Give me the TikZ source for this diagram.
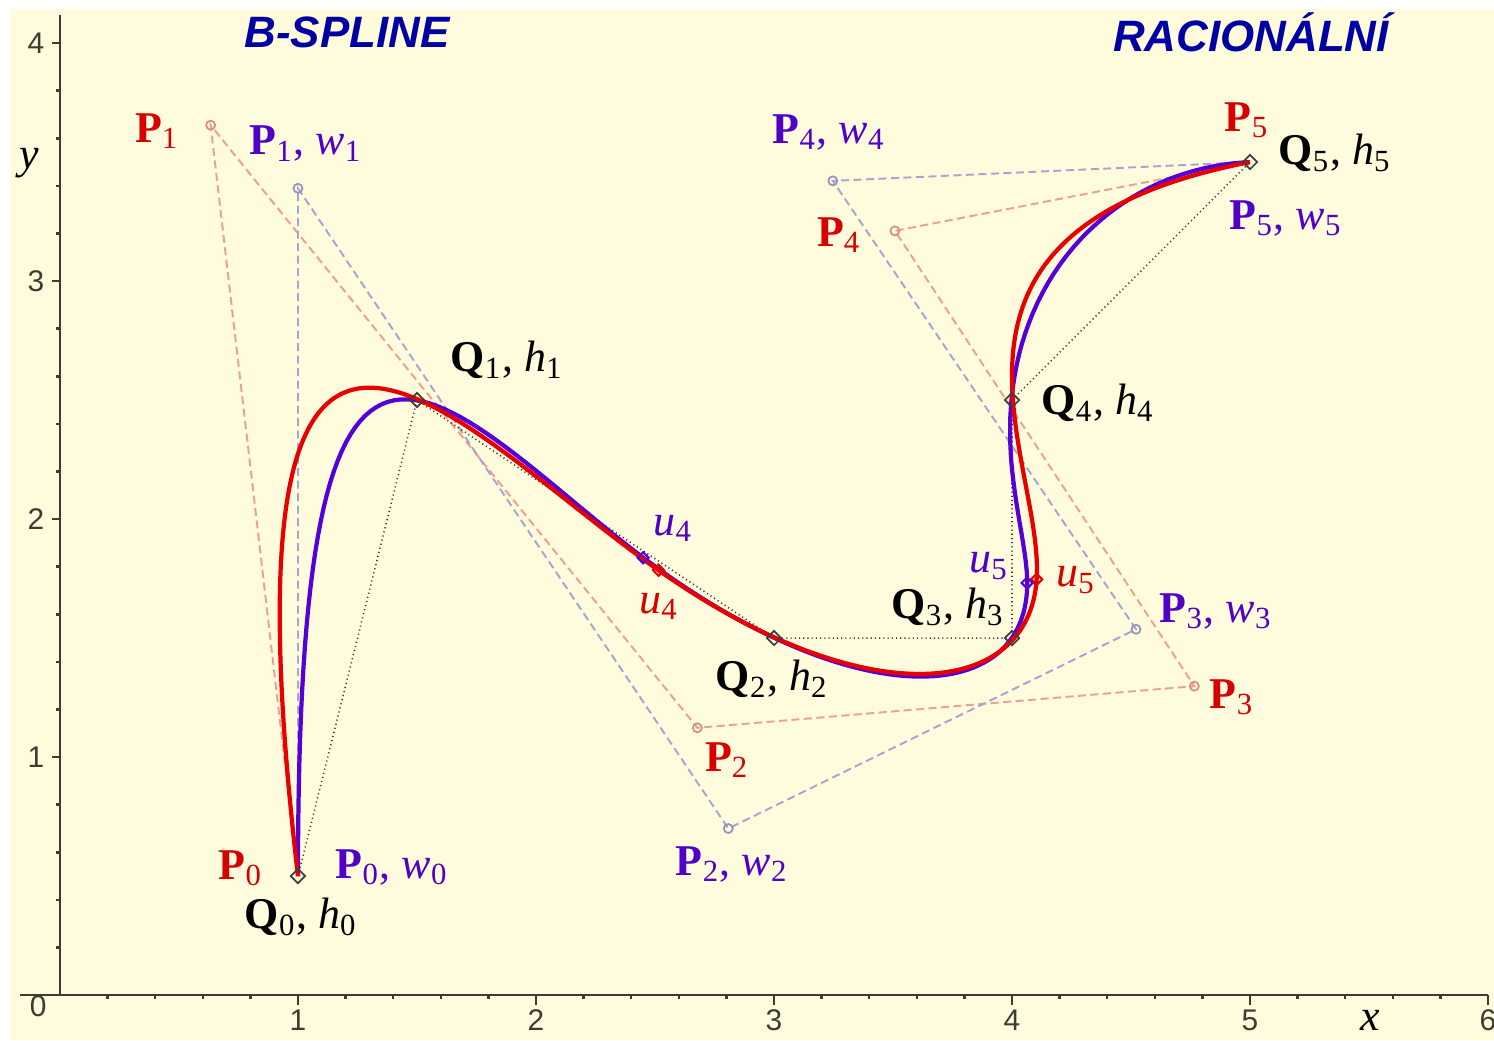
\documentclass[tikz,border=0pt]{standalone}
\usepackage{fontspec}
\setmainfont{Liberation Serif}
\setsansfont{Liberation Sans}
\usetikzlibrary{shapes.geometric, positioning}

\definecolor{paper}{RGB}{255,251,221}
\definecolor{splred}{RGB}{232,0,0}
\definecolor{splblue}{RGB}{85,0,215}
\definecolor{labred}{RGB}{215,0,0}
\definecolor{labblue}{RGB}{80,0,200}
\definecolor{titleblue}{RGB}{0,0,165}
\definecolor{polyred}{RGB}{238,160,140}
\definecolor{polyblue}{RGB}{165,165,210}
\definecolor{axisgray}{RGB}{60,60,50}

\newcommand{\Plab}[1]{\textbf{P}\textsubscript{#1}}
\newcommand{\PWlab}[1]{\textbf{P}\textsubscript{#1}, \textit{w}\textsubscript{#1}}
\newcommand{\QHlab}[1]{\textbf{Q}\textsubscript{#1}, \textit{h}\textsubscript{#1}}
\newcommand{\Ulab}[1]{\textit{u}\textsubscript{#1}}

\begin{document}
\begin{tikzpicture}[
        x=2.38cm, y=2.38cm,
        declare function={ratb(\ta,\ka,\kb,\kc,\kd)=\ka*(1-\ta)^3+3*\kb*\ta*(1-\ta)^2+3*\kc*\ta^2*(1-\ta)+\kd*\ta^3;},
        axis/.style={draw=axisgray, line width=0.7pt},
        numlab/.style={font=\sffamily\fontsize{8.5}{10}\selectfont, text=axisgray, inner sep=0pt},
        title/.style={font=\sffamily\bfseries\itshape\fontsize{12.5}{14}\selectfont, text=titleblue},
        lab/.style={font=\fontsize{12.5}{14}\selectfont, inner sep=1pt},
        redpt/.style={circle, draw=polyred!90!black, line width=0.5pt, inner sep=0pt, minimum size=0.9mm},
        bluept/.style={circle, draw=polyblue!90!black, line width=0.5pt, inner sep=0pt, minimum size=0.9mm},
        qmark/.style={diamond, draw=black!75, line width=0.5pt, inner sep=0pt, minimum size=1.5mm},
        umark/.style={diamond, line width=0.6pt, inner sep=0pt, minimum size=1.2mm},
        redpoly/.style={draw=polyred, line width=0.55pt, dash pattern=on 0.8mm off 0.45mm},
        bluepoly/.style={draw=polyblue, line width=0.55pt, dash pattern=on 0.8mm off 0.45mm},
        qpoly/.style={draw=black!80, line width=0.45pt, dash pattern=on 0.3pt off 0.9pt},
        redcurve/.style={draw=splred, line width=1.2pt},
        bluecurve/.style={draw=splblue, line width=1.2pt}
    ]
        % Background
        \useasboundingbox (-0.252,-0.189) rectangle (6.025,4.181);
        \fill[paper] (-0.206,-0.189) rectangle (6.025,4.143);

        % Axes
        \draw[axis] (-0.17,0) -- (6,0);
        \draw[axis] (0,0) -- (0,4.12);
        \foreach \i in {1,...,30} \draw[axis] (\i/5,0) -- (\i/5,-0.018);
        \foreach \i in {1,...,20} \draw[axis] (0,\i/5) -- (-0.015,\i/5);
        \foreach \k in {1,...,6} {
            \draw[axis] (\k,0) -- (\k,-0.04);
            \node[numlab] (xl\k) at (\k,-0.105) {\k};
        }
        \foreach \k in {1,...,4} {
            \draw[axis] (0,\k) -- (-0.035,\k);
            \node[numlab, anchor=east] (yl\k) at (-0.063,\k) {\k};
        }
        \node[numlab] (xl0) at (-0.092,-0.045) {0};
        \node[lab] (xname) at (5.504,-0.105) {\textit{x}};
        \node[lab] (yname) at (-0.13,3.496) {\textit{y}};

        % Titles
        \node[title] (tbsp) at (1.206,4.046) {B-SPLINE};
        \node[title] (trac) at (5.004,4.046) {RACIONÁLNÍ};

        % Points
        \coordinate (q0) at (1,0.5);
        \coordinate (q1) at (1.5,2.5);
        \coordinate (q2) at (3,1.5);
        \coordinate (q3) at (4,1.5);
        \coordinate (q4) at (4,2.5);
        \coordinate (q5) at (5,3.5);
        \coordinate (rp1) at (0.633,3.655);
        \coordinate (rp2) at (2.678,1.123);
        \coordinate (rp3) at (4.766,1.298);
        \coordinate (rp4) at (3.508,3.211);
        \coordinate (bp1) at (1.0,3.39);
        \coordinate (bp2) at (2.808,0.70);
        \coordinate (bp3) at (4.521,1.537);
        \coordinate (bp4) at (3.247,3.421);
        % Bezier points of the red curve
        \coordinate (ra) at (1.6555,2.389);
        \coordinate (ru4) at (2.5148,1.7852);
        \coordinate (rb) at (3.374,1.1813);
        \coordinate (rc) at (4.07,1.2397);
        \coordinate (ru5) at (4.1035,1.7471);
        \coordinate (rd) at (4.137,2.2545);
        \coordinate (bu4) at (2.4502,1.8376);
        \coordinate (bu5) at (4.0633,1.7316);

        % Control polygons
        \draw[redpoly] (q0) -- (rp1) -- (rp2) -- (rp3) -- (rp4) -- (q5);
        \draw[bluepoly] (q0) -- (bp1) -- (bp2) -- (bp3) -- (bp4) -- (q5);
        \draw[qpoly] (q0) -- (q1) -- (q2) -- (q3) -- (q4) -- (q5);

        % Curves
        \draw[bluecurve, line join=round]
            plot[variable=\ta, domain=0:1, samples=60]
                ({ratb(\ta,1,0.874,1.08705,1.45762)/ratb(\ta,1,0.874,0.6685,0.59491)},
                 {ratb(\ta,0.5,2.96286,1.64348,1.09322)/ratb(\ta,1,0.874,0.6685,0.59491)})
            -- plot[variable=\ta, domain=0:1, samples=60]
                ({ratb(\ta,1.45762,1.8282,2.3563,2.19148)/ratb(\ta,0.59491,0.52133,0.57967,0.53934)},
                 {ratb(\ta,1.09322,0.54294,0.76177,0.93393)/ratb(\ta,0.59491,0.52133,0.57967,0.53934)})
            -- plot[variable=\ta, domain=0:1, samples=60]
                ({ratb(\ta,2.19148,2.02666,1.16892,4.4)/ratb(\ta,0.53934,0.499,0.36,0.88)},
                 {ratb(\ta,0.93393,1.10609,1.23156,3.08)/ratb(\ta,0.53934,0.499,0.36,0.88)});
        \draw[redcurve] (q0) .. controls (rp1) and (ra) .. (ru4)
            .. controls (rb) and (rc) .. (ru5)
            .. controls (rd) and (rp4) .. (q5);

        % Markers
        \foreach \p in {rp1,rp2,rp3,rp4} \node[redpt] (m\p) at (\p) {};
        \foreach \p in {bp1,bp2,bp3,bp4} \node[bluept] (m\p) at (\p) {};
        \foreach \p in {q0,q1,q2,q3,q4,q5} \node[qmark] (m\p) at (\p) {};
        \node[umark, draw=splred] (mru4) at (ru4) {};
        \node[umark, draw=splred] (mru5) at (ru5) {};
        \node[umark, draw=splblue] (mbu4) at (bu4) {};
        \node[umark, draw=splblue] (mbu5) at (bu5) {};

        % Labels
        \node[lab, text=labred] (lrp0) at (0.76,0.534) {\Plab{0}};
        \node[lab, text=labred] (lrp1) at (0.408,3.63) {\Plab{1}};
        \node[lab, text=labred] (lrp2) at (2.803,0.987) {\Plab{2}};
        \node[lab, text=labred] (lrp3) at (4.924,1.252) {\Plab{3}};
        \node[lab, text=labred] (lrp4) at (3.273,3.193) {\Plab{4}};
        \node[lab, text=labred] (lrp5) at (4.987,3.676) {\Plab{5}};
        \node[lab, text=labblue] (lbp0) at (1.395,0.538) {\PWlab{0}};
        \node[lab, text=labblue] (lbp1) at (1.033,3.576) {\PWlab{1}};
        \node[lab, text=labblue] (lbp2) at (2.824,0.55) {\PWlab{2}};
        \node[lab, text=labblue] (lbp3) at (4.857,1.613) {\PWlab{3}};
        \node[lab, text=labblue] (lbp4) at (3.231,3.626) {\PWlab{4}};
        \node[lab, text=labblue] (lbp5) at (5.151,3.265) {\PWlab{5}};
        \node[lab] (lq0) at (1.013,0.328) {\QHlab{0}};
        \node[lab] (lq1) at (1.878,2.668) {\QHlab{1}};
        \node[lab] (lq2) at (2.992,1.328) {\QHlab{2}};
        \node[lab] (lq3) at (3.731,1.63) {\QHlab{3}};
        \node[lab] (lq4) at (4.361,2.487) {\QHlab{4}};
        \node[lab] (lq5) at (5.357,3.538) {\QHlab{5}};
        \node[lab, text=labblue] (lbu4) at (2.576,1.962) {\Ulab{4}};
        \node[lab, text=labred] (lru4) at (2.517,1.634) {\Ulab{4}};
        \node[lab, text=labblue] (lbu5) at (3.903,1.803) {\Ulab{5}};
        \node[lab, text=labred] (lru5) at (4.269,1.744) {\Ulab{5}};
    \end{tikzpicture}
\end{document}
